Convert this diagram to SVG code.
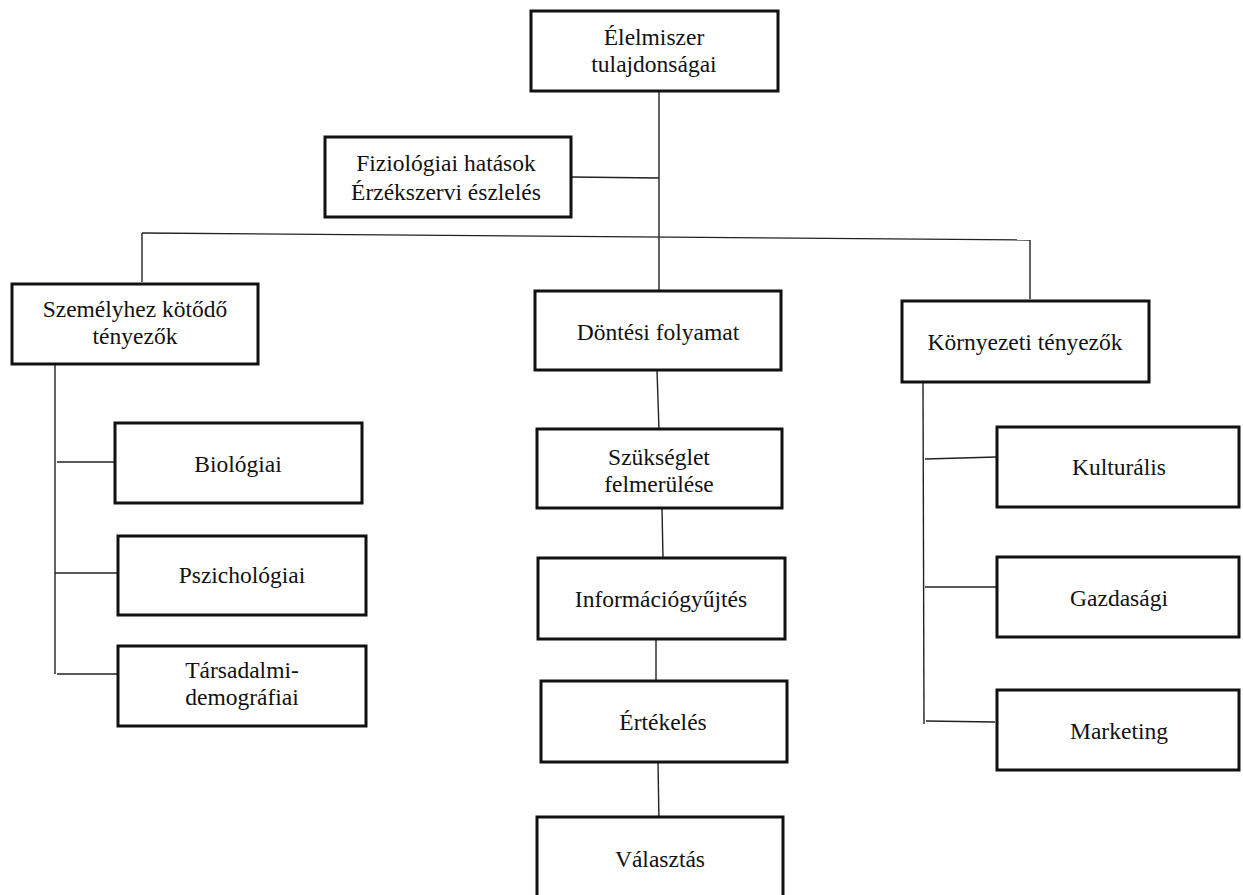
<svg xmlns="http://www.w3.org/2000/svg" width="1243" height="895" viewBox="0 0 1243 895">
  <style>
    .box { fill: #fff; stroke: #111; stroke-width: 3; }
    .lbl { font-family: "Liberation Serif", "Times New Roman", serif; font-size: 23.5px; fill: #111; text-anchor: middle; }
    .conn line { stroke: #222; stroke-width: 1.4; }
  </style>
  <rect width="1243" height="895" fill="#fff"/>

  <!-- connectors -->
  <g id="connectors" class="conn">
    <line x1="659" y1="91" x2="659" y2="291"/>
    <line x1="571" y1="177" x2="659" y2="178"/>
    <line x1="142" y1="233" x2="1030" y2="240"/>
    <line x1="142" y1="233" x2="142" y2="282"/>
    <line x1="1030" y1="240" x2="1030" y2="299"/>
    <!-- personal factors branch -->
    <line x1="55" y1="364" x2="55" y2="674"/>
    <line x1="57" y1="462" x2="116" y2="462"/>
    <line x1="55" y1="573" x2="122" y2="573"/>
    <line x1="57" y1="674" x2="122" y2="674"/>
    <!-- decision chain -->
    <line x1="657" y1="370" x2="659" y2="430"/>
    <line x1="662" y1="508" x2="663" y2="559"/>
    <line x1="656" y1="639" x2="656" y2="681"/>
    <line x1="658" y1="762" x2="659" y2="823"/>
    <!-- environmental factors branch -->
    <line x1="923" y1="382" x2="924" y2="724"/>
    <line x1="925" y1="459" x2="997" y2="457"/>
    <line x1="925" y1="587" x2="997" y2="587"/>
    <line x1="926" y1="721" x2="995" y2="722"/>
  </g>

  <g id="n-elelmiszer">
    <rect class="box" x="531" y="11" width="247" height="80"/>
    <text class="lbl" x="654" y="45">Élelmiszer</text>
    <text class="lbl" x="654" y="72">tulajdonságai</text>
  </g>

  <g id="n-fiziologiai">
    <rect class="box" x="325" y="137" width="246" height="80"/>
    <text class="lbl" x="446" y="171">Fiziológiai hatások</text>
    <text class="lbl" x="446" y="200">Érzékszervi észlelés</text>
  </g>

  <g id="n-szemelyhez">
    <rect class="box" x="12" y="284" width="246" height="80"/>
    <text class="lbl" x="135" y="317">Személyhez kötődő</text>
    <text class="lbl" x="135" y="344">tényezők</text>
  </g>

  <g id="n-dontesi">
    <rect class="box" x="535" y="291" width="246" height="79"/>
    <text class="lbl" x="658" y="340">Döntési folyamat</text>
  </g>

  <g id="n-kornyezeti">
    <rect class="box" x="902" y="301" width="247" height="81"/>
    <text class="lbl" x="1025" y="350">Környezeti tényezők</text>
  </g>

  <g id="n-biologiai">
    <rect class="box" x="115" y="423" width="247" height="80"/>
    <text class="lbl" x="238" y="472">Biológiai</text>
  </g>

  <g id="n-pszichologiai">
    <rect class="box" x="118" y="536" width="248" height="79"/>
    <text class="lbl" x="242" y="583">Pszichológiai</text>
  </g>

  <g id="n-tarsadalmi">
    <rect class="box" x="118" y="646" width="248" height="80"/>
    <text class="lbl" x="242" y="678">Társadalmi-</text>
    <text class="lbl" x="242" y="705">demográfiai</text>
  </g>

  <g id="n-szukseglet">
    <rect class="box" x="537" y="429" width="245" height="79"/>
    <text class="lbl" x="659" y="465">Szükséglet</text>
    <text class="lbl" x="659" y="492">felmerülése</text>
  </g>

  <g id="n-informacio">
    <rect class="box" x="538" y="558" width="247" height="81"/>
    <text class="lbl" x="661" y="607">Információgyűjtés</text>
  </g>

  <g id="n-ertekeles">
    <rect class="box" x="541" y="681" width="246" height="81"/>
    <text class="lbl" x="663" y="730">Értékelés</text>
  </g>

  <g id="n-valasztas">
    <rect class="box" x="537" y="817" width="246" height="82"/>
    <text class="lbl" x="660" y="867">Választás</text>
  </g>

  <g id="n-kulturalis">
    <rect class="box" x="997" y="427" width="242" height="80"/>
    <text class="lbl" x="1119" y="475">Kulturális</text>
  </g>

  <g id="n-gazdasagi">
    <rect class="box" x="997" y="557" width="242" height="80"/>
    <text class="lbl" x="1119" y="606">Gazdasági</text>
  </g>

  <g id="n-marketing">
    <rect class="box" x="997" y="690" width="242" height="80"/>
    <text class="lbl" x="1119" y="739">Marketing</text>
  </g>
</svg>
